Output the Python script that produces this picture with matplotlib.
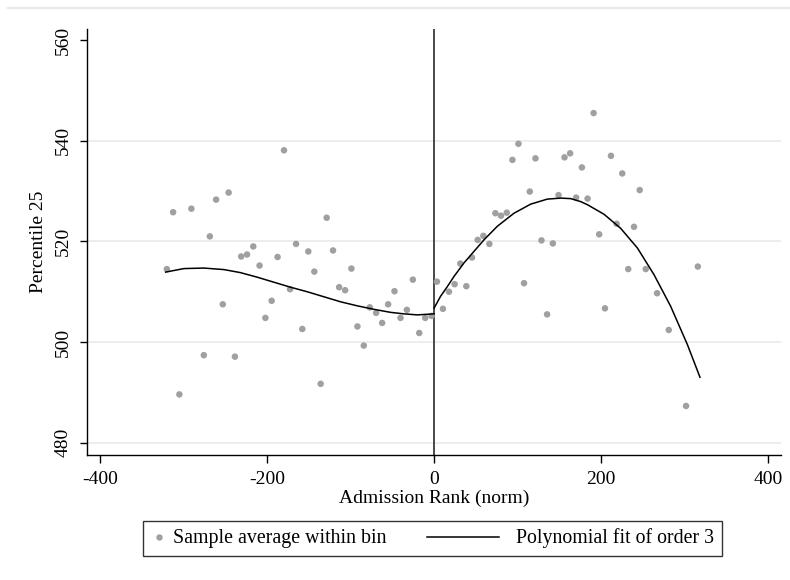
import matplotlib
matplotlib.use("Agg")
import matplotlib.pyplot as plt
from matplotlib.lines import Line2D
from matplotlib.legend_handler import HandlerLine2D

# ---- data ----
bin_x = [-320, -312.5, -305, -290.6, -275.7, -268.5, -261, -253, -246, -238.5,
         -231, -224, -216.5, -209, -202, -194.5, -187.4, -179.7, -172.5, -165.3,
         -157.8, -150.6, -143.4, -135.8, -128.6, -121, -113.7, -106.5, -99, -91.8,
         -84.2, -77, -69.4, -62.2, -55, -47.4, -40.2, -32.6, -25.4, -17.8,
         -10.6, -3,
         3.4, 10.6, 17.8, 24.6, 31.4, 38.6, 45.4, 52.2, 59, 66.2,
         73.4, 80.1, 87, 93.8, 101, 107.7, 114.6, 121.4, 128.6, 135.3,
         142.2, 149, 156.2, 162.9, 170.1, 177, 183.8, 191, 197.7, 204.6,
         211.8, 218.6, 225.3, 232.5, 239.4, 246.2, 253.4, 267, 281, 301.7,
         315.8]
bin_y = [514.5, 525.8, 489.6, 526.5, 497.4, 521.0, 528.3, 507.5, 529.7, 497.1,
         517.0, 517.4, 519.0, 515.2, 504.8, 508.2, 516.9, 538.1, 510.5, 519.5,
         502.6, 518.0, 514.0, 491.7, 524.7, 518.2, 510.9, 510.3, 514.6, 503.1,
         499.3, 506.9, 505.8, 503.8, 507.5, 510.1, 504.8, 506.4, 512.4, 501.8,
         504.8, 505.2,
         512.0, 506.6, 510.0, 511.5, 515.6, 511.1, 516.8, 520.3, 521.1, 519.5,
         525.6, 525.1, 525.7, 536.2, 539.4, 511.7, 529.9, 536.5, 520.2, 505.5,
         519.6, 529.2, 536.7, 537.5, 528.7, 534.7, 528.5, 545.5, 521.4, 506.7,
         537.0, 523.5, 533.5, 514.5, 522.9, 530.2, 514.5, 509.7, 502.4, 487.3,
         515.0]

fit_left_x = [-321.4, -299.5, -275.6, -251.6, -232, -212, -192, -172, -152, -132,
              -112, -92, -72, -52, -36, -20, 0]
fit_left_y = [513.9, 514.6, 514.7, 514.4, 513.8, 512.9, 511.9, 510.9, 510.0, 509.0,
              508.0, 507.2, 506.5, 505.9, 505.6, 505.4, 505.6]
fit_right_x = [0, 7.8, 15.8, 23.7, 35.7, 47.7, 59.7, 75.7, 95.7, 115.6, 135.6,
               151.6, 163.6, 175.6, 183.5, 203.4, 223.4, 243.4, 263.3, 283.3,
               303.3, 318.4]
fit_right_y = [506.75, 509.1, 511.0, 513.0, 515.7, 518.0, 520.3, 523.0, 525.6, 527.4,
               528.4, 528.6, 528.5, 527.9, 527.3, 525.4, 522.6, 518.7, 513.4, 507.1,
               499.5, 493.0]

xticks = [-400, -200, 0, 200, 400]
yticks = [480, 500, 520, 540, 560]
grid_y = [480, 500, 520, 540]

plt.rcParams['font.family'] = ['Liberation Serif', 'DejaVu Serif']
plt.rcParams['axes.unicode_minus'] = False

PX = 72 / 100  # points per pixel

fig = plt.figure(figsize=(7.9, 5.8), dpi=100)
ax = fig.add_axes([87 / 790, 1 - 455 / 580, (781 - 87) / 790, (455 - 29) / 580])

for g in grid_y:
    ax.axhline(g, color='#e8e8e8', lw=1.1, zorder=0)

ax.axvline(0, color='#3a3a3a', lw=1.3, zorder=1)

ax.scatter(bin_x, bin_y, s=22, color='#a0a0a0', edgecolors='none', zorder=3)
ax.plot(fit_left_x, fit_left_y, color='black', lw=1.1, zorder=4)
ax.plot(fit_right_x, fit_right_y, color='black', lw=1.1, zorder=4)

ax.set_xlim(-415.6, 415.4)
ax.set_ylim(477.56, 562.2)
ax.set_xticks(xticks)
ax.set_yticks(yticks)

for s in ['top', 'right']:
    ax.spines[s].set_visible(False)
for s in ['left', 'bottom']:
    ax.spines[s].set_linewidth(1.0)
    ax.spines[s].set_color('black')

ax.tick_params(axis='both', width=1.0, labelsize=14, color='black')
ax.tick_params(axis='x', length=8 * PX, pad=8 * PX)
ax.tick_params(axis='y', length=7 * PX, pad=8 * PX, labelrotation=90)
for lab in ax.get_yticklabels():
    lab.set_va('center')

ax.set_xlabel('Admission Rank (norm)', fontsize=14, labelpad=1)
ax.set_ylabel('Percentile 25', fontsize=14, labelpad=8 * PX)


class DotHandler(HandlerLine2D):
    def legend_artist(self, legend, orig_handle, fontsize, handlebox):
        handlebox.width = 5 * PX
        return super().legend_artist(legend, orig_handle, fontsize, handlebox)

    def create_artists(self, legend, orig_handle, xdescent, ydescent, width,
                       height, fontsize, trans):
        arts = super().create_artists(legend, orig_handle, xdescent, ydescent,
                                      width, height, fontsize, trans)
        for a in arts:
            a.set_xdata([8 * PX])
        return arts


dot = Line2D([], [], ls='none', marker='o', markersize=4.6, color='#a0a0a0',
             markeredgewidth=0)
line = Line2D([], [], color='black', lw=1.1)
fs = 14.3
leg = fig.legend([dot, line], ['Sample average within bin', 'Polynomial fit of order 3'],
                 loc='center', bbox_to_anchor=(432.5 / 790, 1 - 538.5 / 580),
                 ncol=2, fontsize=fs, frameon=True, fancybox=False,
                 edgecolor='#333333', framealpha=1, borderpad=0.38,
                 handlelength=72 * PX / fs, handletextpad=17 * PX / fs,
                 columnspacing=41 * PX / fs,
                 handler_map={dot: DotHandler(numpoints=1)})
leg.get_frame().set_linewidth(1.0)

fig.add_artist(Line2D([8 / 790, 1.0], [1 - 8 / 580, 1 - 8 / 580], color='#e8e8e8',
                      lw=1.5, transform=fig.transFigure))

fig.savefig('out.png', dpi=100, facecolor='white')
